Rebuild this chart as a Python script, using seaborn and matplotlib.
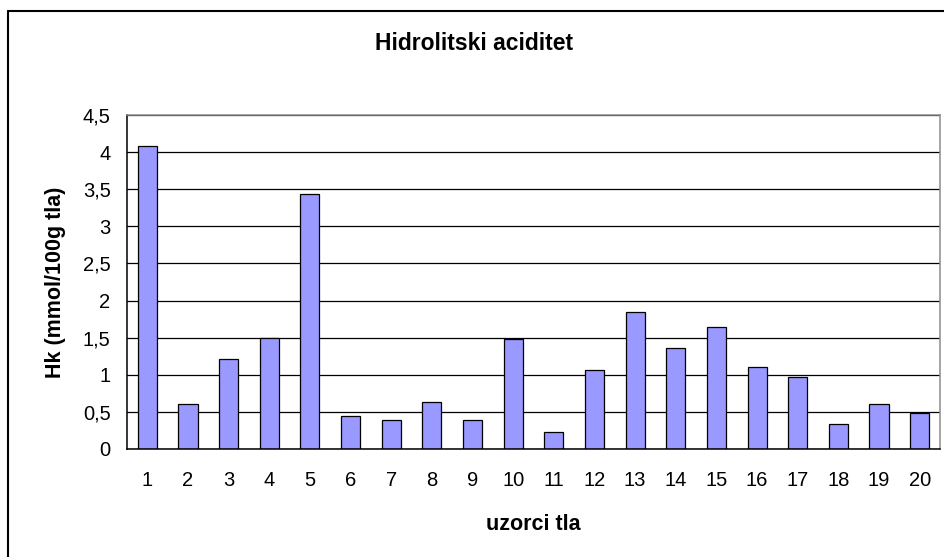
import matplotlib

matplotlib.use("Agg")
import matplotlib.pyplot as plt
import numpy as np
import pandas as pd
import seaborn as sns
from matplotlib.lines import Line2D

samples = [str(i) for i in range(1, 21)]
hk_values = [4.08, 0.60, 1.21, 1.50, 3.43, 0.44, 0.39, 0.63, 0.39, 1.48,
             0.23, 1.07, 1.84, 1.36, 1.65, 1.10, 0.97, 0.34, 0.60, 0.49]
y_ticks = [0, 0.5, 1, 1.5, 2, 2.5, 3, 3.5, 4, 4.5]
y_tick_labels = ["0", "0,5", "1", "1,5", "2", "2,5", "3", "3,5", "4", "4,5"]

df = pd.DataFrame({"uzorak": samples, "hk": hk_values})

sns.set_style("white")
plt.rcParams["font.family"] = ["Liberation Sans", "DejaVu Sans"]
plt.rcParams["text.color"] = "black"
plt.rcParams["axes.labelcolor"] = "black"
plt.rcParams["xtick.color"] = "black"
plt.rcParams["ytick.color"] = "black"

W, H = 945, 557
ax_l, ax_r, ax_t, ax_b = 127, 940, 115, 449

fig = plt.figure(figsize=(W / 100, H / 100), dpi=100)
ax = fig.add_axes([ax_l / W, 1 - ax_b / H, (ax_r - ax_l) / W, (ax_b - ax_t) / H])

ax.set_axisbelow(True)
ax.yaxis.grid(True, color="black", linewidth=0.9)
ax.xaxis.grid(False)

sns.barplot(data=df, x="uzorak", y="hk", color="#9999FF", edgecolor="black",
            linewidth=0.9, width=0.47, saturation=1, ax=ax)

ax.set_xlim(-0.5, len(samples) - 0.5)
ax.set_ylim(0, 4.5)
ax.set_yticks(y_ticks)
ax.set_yticklabels(y_tick_labels, fontsize=14.5)
ax.tick_params(axis="y", direction="out", length=4.3, width=1, color="black",
               labelcolor="black", pad=7.5)

ax.set_xticks(range(len(samples)))
ax.set_xticklabels(samples, fontsize=14.5)
ax.tick_params(axis="x", which="major", length=0, pad=16, labelcolor="black")
ax.set_xticks(np.arange(-0.5, len(samples)), minor=True)
ax.tick_params(axis="x", which="minor", direction="out", length=4, width=1, color="black")

for side in ["left", "bottom"]:
    ax.spines[side].set_color("black")
    ax.spines[side].set_linewidth(1.1)
for side in ["top", "right"]:
    ax.spines[side].set_visible(True)
    ax.spines[side].set_color("#8c8c8c")
    ax.spines[side].set_linewidth(1.1)

ax.set_xlabel("uzorci tla", fontsize=15.5, fontweight="bold", color="black")
ax.xaxis.set_label_coords(0.5, (ax_b - 524) / (ax_b - ax_t))
ax.xaxis.label.set_verticalalignment("center")
ax.set_ylabel("Hk (mmol/100g tla)", fontsize=15.5, fontweight="bold", color="black")
ax.yaxis.set_label_coords((55 - ax_l) / (ax_r - ax_l), 0.5)
ax.yaxis.label.set_verticalalignment("center")

fig.text(474 / W, 1 - 44 / H, "Hidrolitski aciditet", color="black",
         ha="center", va="center", fontsize=16.5, fontweight="bold")

# outer chart frame (only left and top edges are in view)
fig.add_artist(Line2D([8.5 / W, 8.5 / W], [0, 1 - 11 / H], color="black", linewidth=1.5,
                      transform=fig.transFigure))
fig.add_artist(Line2D([8.5 / W, 1], [1 - 11 / H, 1 - 11 / H], color="black", linewidth=1.5,
                      transform=fig.transFigure))

fig.savefig("out.png", dpi=100)
